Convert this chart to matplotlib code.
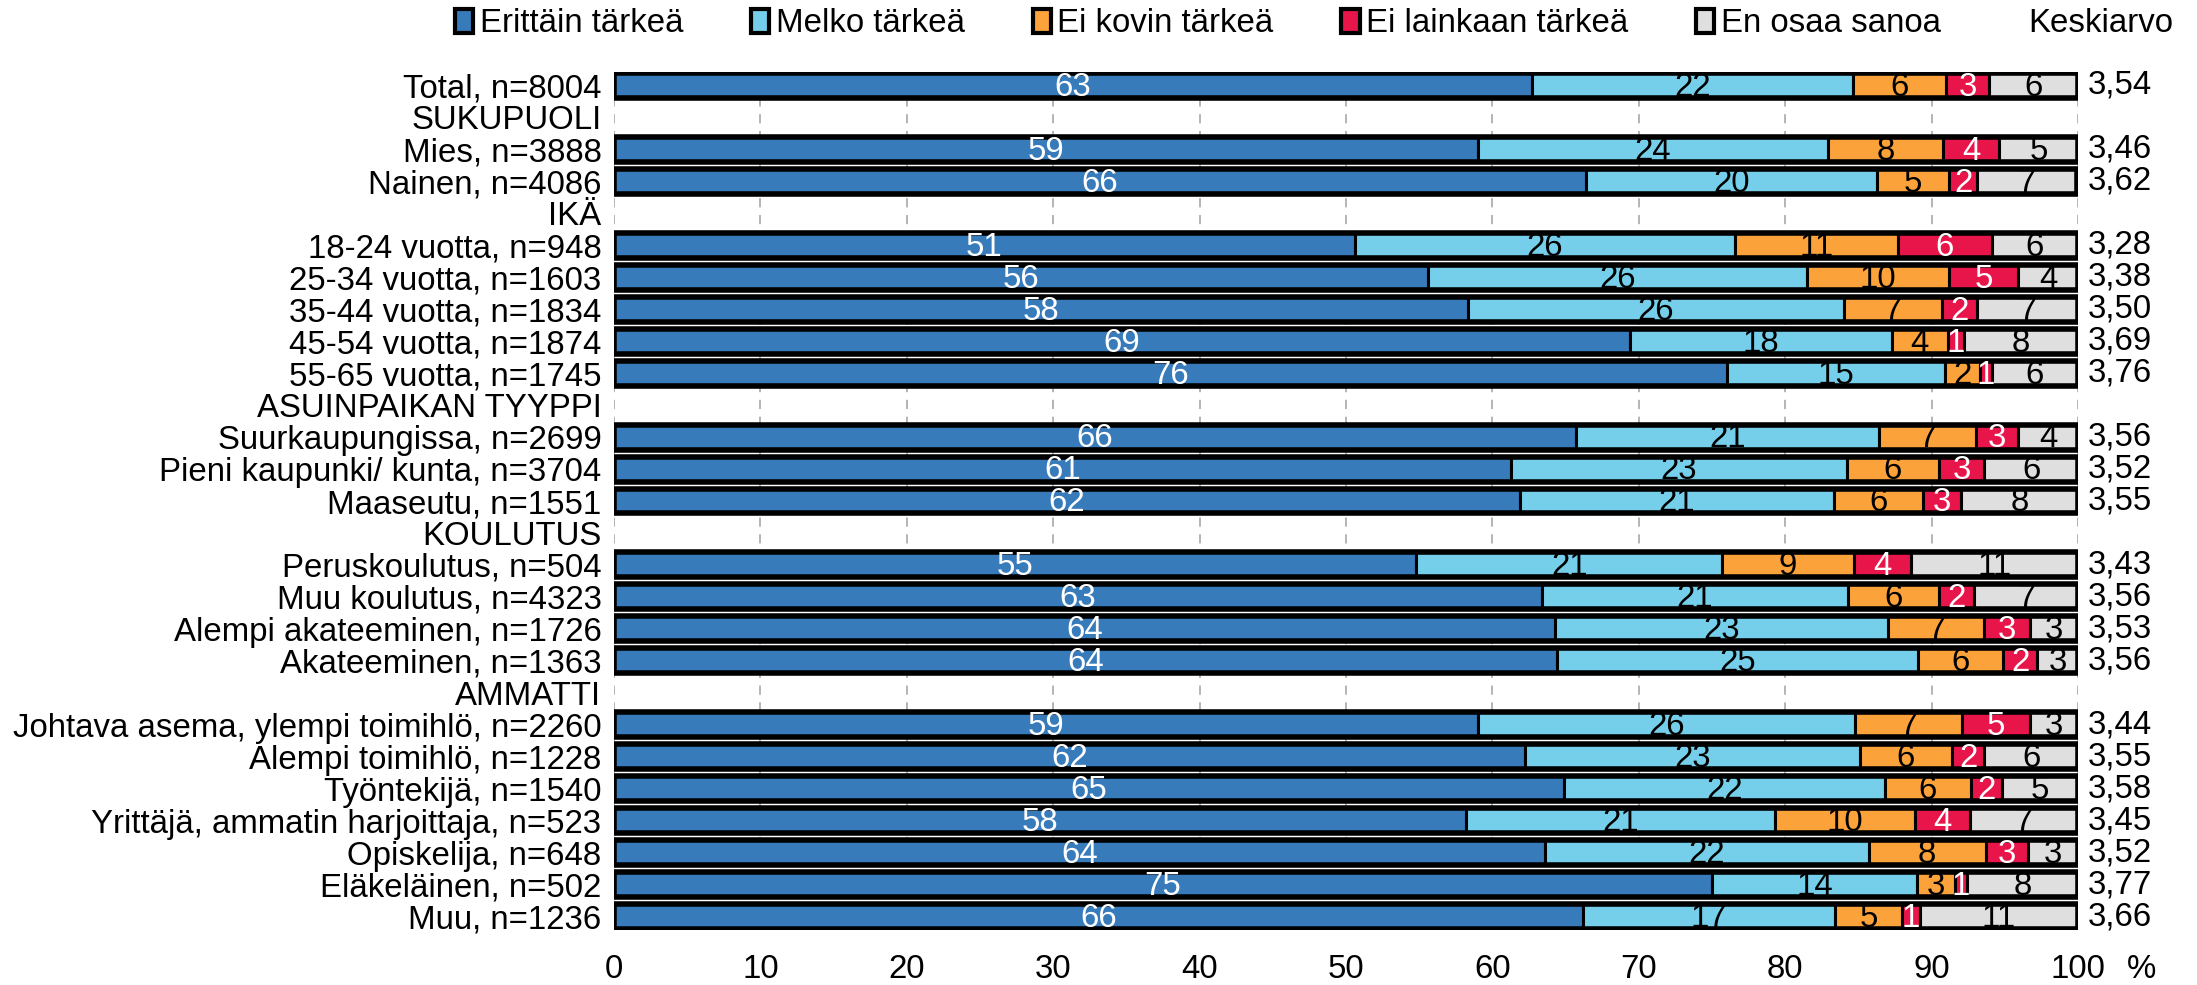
import numpy as np
import matplotlib
matplotlib.use("Agg")
import matplotlib.pyplot as plt
from matplotlib.patches import Patch

plt.rcParams['font.family'] = ['Liberation Sans', 'DejaVu Sans']

rows = ["Total, n=8004", "SUKUPUOLI", "Mies, n=3888", "Nainen, n=4086", "IKÄ",
        "18-24 vuotta, n=948", "25-34 vuotta, n=1603", "35-44 vuotta, n=1834",
        "45-54 vuotta, n=1874", "55-65 vuotta, n=1745", "ASUINPAIKAN TYYPPI",
        "Suurkaupungissa, n=2699", "Pieni kaupunki/ kunta, n=3704", "Maaseutu, n=1551",
        "KOULUTUS", "Peruskoulutus, n=504", "Muu koulutus, n=4323",
        "Alempi akateeminen, n=1726", "Akateeminen, n=1363", "AMMATTI",
        "Johtava asema, ylempi toimihlö, n=2260", "Alempi toimihlö, n=1228",
        "Työntekijä, n=1540", "Yrittäjä, ammatin harjoittaja, n=523",
        "Opiskelija, n=648", "Eläkeläinen, n=502", "Muu, n=1236"]

series_names = ["Erittäin tärkeä", "Melko tärkeä", "Ei kovin tärkeä",
                "Ei lainkaan tärkeä", "En osaa sanoa"]

N = None
erittain = [62.7, N, 59.0, 66.4, N, 50.6, 55.6, 58.3, 69.4, 76.0, N, 65.7, 61.3, 61.9,
            N, 54.8, 63.4, 64.3, 64.4, N, 59.0, 62.2, 64.9, 58.2, 63.6, 75.0, 66.2]
melko = [21.9, N, 23.9, 19.9, N, 26.0, 25.9, 25.7, 17.9, 14.9, N, 20.7, 22.9, 21.4,
         N, 20.9, 20.9, 22.7, 24.7, N, 25.8, 22.9, 21.9, 21.1, 22.1, 14.0, 17.2]
eikovin = [6.4, N, 7.9, 4.9, N, 11.1, 9.7, 6.7, 3.8, 2.4, N, 6.6, 6.3, 6.1,
           N, 9.0, 6.2, 6.6, 5.8, N, 7.3, 6.3, 5.9, 9.6, 8.0, 2.6, 4.6]
eilainkaan = [2.9, N, 3.8, 1.9, N, 6.4, 4.7, 2.4, 1.1, 0.8, N, 2.9, 3.1, 2.6,
              N, 3.9, 2.4, 3.1, 2.3, N, 4.6, 2.2, 2.1, 3.7, 2.9, 0.8, 1.2]
eos = [6.1, N, 5.4, 6.8, N, 5.9, 4.1, 6.9, 7.8, 5.9, N, 4.1, 6.4, 8.0,
       N, 11.4, 7.1, 3.3, 2.8, N, 3.3, 6.4, 5.2, 7.4, 3.4, 7.6, 10.8]
keskiarvo = [3.54, N, 3.46, 3.62, N, 3.28, 3.38, 3.50, 3.69, 3.76, N, 3.56, 3.52, 3.55,
             N, 3.43, 3.56, 3.53, 3.56, N, 3.44, 3.55, 3.58, 3.45, 3.52, 3.77, 3.66]

colors = ['#387bbb', '#75cfea', '#fca23b', '#e8154b', '#dfdfdf']
text_colors = ['white', 'black', 'black', 'white', 'black']

FS = 23.8
fig = plt.figure(figsize=(21.97, 9.85), dpi=100)
ax = fig.add_axes([614/2197, 1-930/985, (2078-614)/2197, (930-72)/985])

data = [erittain, melko, eikovin, eilainkaan, eos]
y = np.arange(len(rows))
h = 0.78
bar_idx = [i for i in range(len(rows)) if erittain[i] is not None]
left = np.zeros(len(bar_idx))
for s, vals in enumerate(data):
    v = np.array([vals[i] for i in bar_idx], dtype=float)
    ax.barh(y[bar_idx], v, left=left, height=h, color=colors[s],
            edgecolor='black', linewidth=2.2, zorder=3)
    for yi, l, w in zip(y[bar_idx], left, v):
        ax.text(l + w/2, yi + 0.06, f"{round(w):d}", ha='center', va='center',
                color=text_colors[s], fontsize=FS, zorder=5)
    left = left + v
# outer border
ax.barh(y[bar_idx], left, height=h, fill=False, edgecolor='black',
        linewidth=4.0, zorder=4)

ax.set_xlim(0, 100)
ax.set_ylim(len(rows) - 1 + 0.42, -0.42)
ax.set_xticks(np.arange(0, 101, 10))
ax.set_xticklabels([str(t) for t in range(0, 101, 10)], fontsize=FS)
ax.set_yticks(y)
ax.set_yticklabels(rows, fontsize=FS)
ax.tick_params(axis='both', length=0)
ax.tick_params(axis='y', pad=9)
ax.tick_params(axis='x', pad=17)
for sp in ax.spines.values():
    sp.set_visible(False)
ax.grid(axis='x', color='#a0a0a0', linestyle=(0, (6, 5)), linewidth=1.1, zorder=0)
ax.set_axisbelow(True)

for i in bar_idx:
    ax.text(100.7, y[i], f"{keskiarvo[i]:.2f}".replace('.', ','), ha='left', va='center',
            fontsize=FS, transform=ax.transData, clip_on=False)

fig.text(2141/2197, 1-969/985, "%", fontsize=FS, ha='center', va='center')
fig.text(2028/2197, 1-24/985, "Keskiarvo", fontsize=FS, ha='left', va='center')

handles = [Patch(facecolor=c, edgecolor='black', linewidth=3) for c in colors]
fig.legend(handles, series_names, loc='center left', bbox_to_anchor=(455/2197, 1-24/985),
           ncol=5, frameon=False, fontsize=FS, handlelength=0.55, handleheight=0.7,
           handletextpad=0.2, columnspacing=2.05, borderaxespad=0, borderpad=0)

fig.savefig("out.png", dpi=100)
